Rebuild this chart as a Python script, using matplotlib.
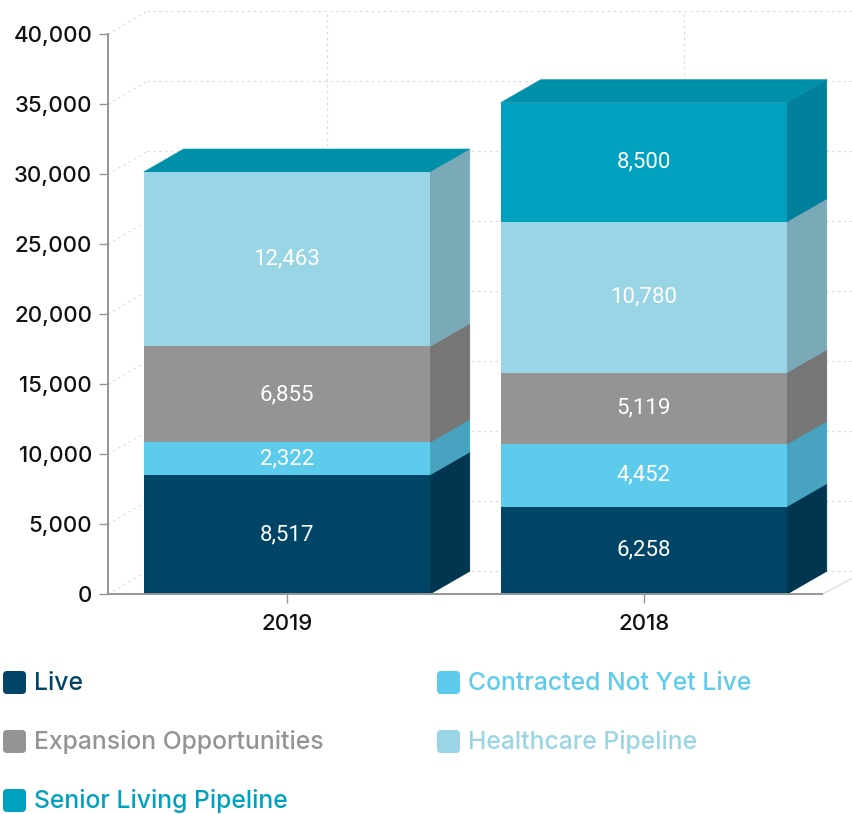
#!/usr/bin/env python3
import numpy as np
import matplotlib
matplotlib.use('Agg')
import matplotlib.pyplot as plt
from matplotlib.patches import Polygon, Rectangle, FancyBboxPatch

years = ['2019', '2018']
series_names = ['Live', 'Contracted Not Yet Live', 'Expansion Opportunities',
                'Healthcare Pipeline', 'Senior Living Pipeline']
live = [8517, 6258]
contracted = [2322, 4452]
expansion = [6855, 5119]
healthcare = [12463, 10780]
senior = [0, 8500]
yticks = [0, 5000, 10000, 15000, 20000, 25000, 30000, 35000, 40000]

front_colors = ['#004565', '#5ccbec', '#949494', '#9ad5e5', '#00a1bf']
side_colors = ['#003650', '#47a3bf', '#767676', '#7aa9b8', '#00809a']
top_color = '#0090aa'
grid_color = '#dadada'
axis_color = '#969696'

W, H = 853, 814
fig = plt.figure(figsize=(W/100, H/100), dpi=100)
ax = fig.add_axes([108.2/W, 1 - 594.2/H, 714/W, 560/H])
ax.set_xlim(-0.5, 1.5)
ax.set_ylim(0, 40000)

# depth of the fake 3d box, in data units
dx = 40/357
dy = 23/0.014
bar_w = 286/357
x_right = 1.5 + 32/357

# back wall grid
for t in yticks:
    ax.plot([-0.5 + 39/357, x_right], [t + dy, t + dy], ls=(0, (2, 3)), lw=0.85,
            color=grid_color, clip_on=False, zorder=1)
    ax.plot([-0.5, -0.5 + 39/357], [t, t + dy], ls=(0, (2, 3)), lw=0.85,
            color=grid_color, clip_on=False, zorder=1)
for i in range(len(years)):
    ax.plot([i + dx, i + dx], [dy, 40000 + dy], ls=(0, (2, 3)), lw=0.85,
            color=grid_color, clip_on=False, zorder=1)
ax.plot([1.5, x_right], [0, 17/0.014], color='#e0e0e0', lw=1, clip_on=False, zorder=1)

# stacked boxes
stack = [live, contracted, expansion, healthcare, senior]
for i in range(len(years)):
    x0 = i - bar_w/2
    x1 = i + bar_w/2
    base = 0
    for vals, fc, sc in zip(stack, front_colors, side_colors):
        v = vals[i]
        if v == 0:
            continue
        # side face first, edged in its own colour so no seam shows against the front
        ax.add_patch(Polygon([(x1, base), (x1 + dx, base + dy), (x1 + dx, base + v + dy),
                              (x1, base + v)], closed=True, fc=sc, ec=sc, lw=0.6,
                             clip_on=False, zorder=2.5))
        ax.add_patch(Rectangle((x0, base), bar_w, v, fc=fc, ec='none', zorder=3))
        ax.text(i, base + v/2, f'{v:,}', ha='center', va='center', color='white',
                fontsize=16, family='Roboto', zorder=4)
        base += v
    ax.add_patch(Polygon([(x0, base), (x0 + dx, base + dy), (x1 + dx, base + dy), (x1, base)],
                         closed=True, fc=top_color, ec=top_color, lw=0.4, clip_on=False, zorder=2.8))

for s in ['top', 'right']:
    ax.spines[s].set_visible(False)
for s in ['left', 'bottom']:
    ax.spines[s].set_color(axis_color)
    ax.spines[s].set_linewidth(1.4)
    ax.spines[s].set_zorder(5)

ax.set_xticks(range(len(years)), years)
ax.set_yticks(yticks, [f'{t:,}' for t in yticks])
ax.tick_params(axis='y', length=6.5, width=1, color=axis_color, pad=5)
ax.tick_params(axis='x', length=6.5, width=1, color=axis_color, pad=8)
for lab in ax.get_xticklabels() + ax.get_yticklabels():
    lab.set_family('Inter')
    lab.set_fontsize(16)
    lab.set_fontweight('medium')
    lab.set_color('#111111')

# legend, laid out by hand in two columns
leg_pos = [(3, 671), (437, 671), (3, 730), (437, 730), (3, 789)]
for name, color, (lx, ly) in zip(series_names, front_colors, leg_pos):
    fig.add_artist(FancyBboxPatch((lx + 4, H - ly - 23 + 4), 15, 15, boxstyle='round,pad=4',
                                  fc=color, ec='none', transform=None))
    fig.text((lx + 31)/W, 1 - (ly + 12)/H, name, color=color, family='Inter',
             fontsize=17.8, fontweight='medium', va='center', ha='left')

fig.savefig('out.png', dpi=100)
